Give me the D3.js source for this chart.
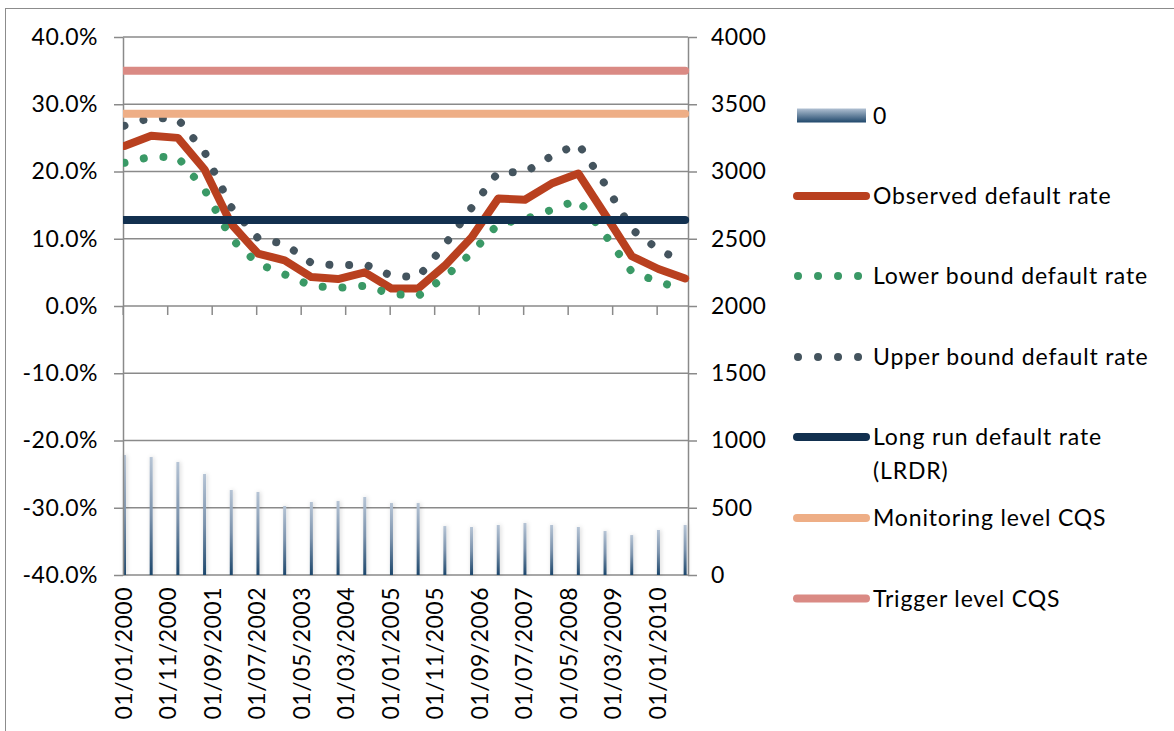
<!DOCTYPE html>
<html><head><meta charset="utf-8">
<script src="https://cdn.jsdelivr.net/npm/d3@7"></script>
<style>
body{margin:0;background:#fff}
svg{display:block}
text{font-family:Lato,"Liberation Sans",sans-serif;fill:#000;letter-spacing:0.5px}
text.leg{letter-spacing:0.85px}
</style>
</head><body><svg id="chart" width="1174" height="731"></svg>
<script>
// ---- data ----
const periods = ["01/01/2000","01/07/2000","01/01/2001","01/07/2001","01/01/2002","01/07/2002","01/01/2003","01/07/2003","01/01/2004","01/07/2004","01/01/2005","01/07/2005","01/01/2006","01/07/2006","01/01/2007","01/07/2007","01/01/2008","01/07/2008","01/01/2009","01/07/2009","01/01/2010","01/07/2010"];
const counts = [892, 877, 840, 751, 632, 617, 513, 543, 550, 580, 535, 535, 364, 357, 372, 387, 372, 357, 327, 297, 335, 372];
const observed = [23.8, 25.3, 25.0, 20.3, 12.2, 7.8, 6.8, 4.3, 4.0, 5.0, 2.6, 2.6, 6.0, 10.2, 16.0, 15.8, 18.2, 19.7, 13.6, 7.4, 5.5, 4.1];
const lower = [21.3, 22.2, 22.1, 17.3, 10.0, 6.3, 4.7, 3.0, 2.7, 3.0, 1.8, 1.5, 4.3, 7.9, 12.2, 12.9, 14.3, 15.8, 10.6, 5.1, 3.6, 2.4];
const upper = [26.8, 28.0, 27.8, 22.9, 14.7, 10.1, 9.2, 6.4, 6.0, 6.2, 4.5, 4.3, 9.1, 14.6, 19.9, 19.9, 22.3, 24.1, 18.1, 11.4, 8.4, 6.4];
const lrdr = 12.8, monitoring = 28.6, trigger = 35.0;
const xTickLabels = ["01/01/2000","01/11/2000","01/09/2001","01/07/2002","01/05/2003","01/03/2004","01/01/2005","01/11/2005","01/09/2006","01/07/2007","01/05/2008","01/03/2009","01/01/2010"];
const leftTicks = [-40,-30,-20,-10,0,10,20,30,40];
const rightTicks = [0,500,1000,1500,2000,2500,3000,3500,4000];
const legendLabels = ["0","Observed default rate","Lower bound default rate","Upper bound default rate",["Long run default rate","(LRDR)"],"Monitoring level CQS","Trigger level CQS"];

// ---- helpers ----
const monthIndex = s => { const p = s.split("/"); return (+p[2]-2000)*12 + (+p[1]-1); };
const colors = {obs:"#b9401f", low:"#3a9966", up:"#44545e", lrdr:"#12304f", mon:"#eeae86", trig:"#da8a84", grid:"#8a8a8a"};
const FS = 23;

const svg = d3.select("#chart");
const L = 123, R = 688, T = 37, B = 575;
const x = d3.scaleLinear().domain([0,127]).range([122.7,687.8]);
const yL = d3.scaleLinear().domain([-40,40]).range([B,T]);
const yR = d3.scaleLinear().domain([0,4000]).range([B,T]);
const xm = d => x(monthIndex(d) + 0.4);

// outer border
svg.append("rect").attr("x",5.5).attr("y",8.5).attr("width",1200).attr("height",800)
  .attr("fill","none").attr("stroke","#8c8c8c").attr("stroke-width",1);

const defs = svg.append("defs");
const g1 = defs.append("linearGradient").attr("id","barGrad").attr("x1",0).attr("y1",0).attr("x2",0).attr("y2",1);
g1.append("stop").attr("offset","0%").attr("stop-color","#b6c4d5");
g1.append("stop").attr("offset","50%").attr("stop-color","#7b92ac");
g1.append("stop").attr("offset","100%").attr("stop-color","#1c466b");
const f = defs.append("filter").attr("id","shadow").attr("x","-300%").attr("y","-10%").attr("width","700%").attr("height","120%");
f.append("feDropShadow").attr("dx",1).attr("dy",0).attr("stdDeviation",2.2).attr("flood-color","#000").attr("flood-opacity",0.18);
defs.append("clipPath").attr("id","plotClip").append("rect").attr("x",L).attr("y",0).attr("width",R-L+4).attr("height",731);

// gridlines
svg.append("g").selectAll("line").data(leftTicks).join("line")
  .attr("x1",L).attr("x2",R).attr("y1",d=>yL(d)).attr("y2",d=>yL(d))
  .attr("stroke",colors.grid).attr("stroke-width",1.3);

// bars (secondary axis)
svg.append("g").selectAll("rect").data(counts).join("rect")
  .attr("x",(d,i)=>xm(periods[i])-1.5).attr("width",3)
  .attr("y",d=>yR(d)).attr("height",d=>yR(0)-yR(d))
  .attr("fill","url(#barGrad)").attr("filter","url(#shadow)");

// axes
const axL = svg.append("g").attr("transform",`translate(${L},0)`)
  .call(d3.axisLeft(yL).tickValues(leftTicks).tickFormat(d=>d.toFixed(1)+"%").tickSize(9).tickSizeOuter(0).tickPadding(16));
const axR = svg.append("g").attr("transform",`translate(${R},0)`)
  .call(d3.axisRight(yR).tickValues(rightTicks).tickFormat(d=>d).tickSize(9).tickSizeOuter(0).tickPadding(14));
const axX = svg.append("g").attr("transform",`translate(0,${yL(0)})`)
  .call(d3.axisBottom(x).tickValues(xTickLabels.map(monthIndex)).tickFormat("").tickSize(9).tickSizeOuter(0));
[axL,axR,axX].forEach(a=>{
  a.selectAll("path.domain").attr("stroke",colors.grid).attr("stroke-width",1.5);
  a.selectAll(".tick line").attr("stroke",colors.grid).attr("stroke-width",1.5);
  a.selectAll("text").attr("font-size",FS).attr("font-family","Lato").attr("fill","#000");
});
axX.select("path.domain").remove();

// x labels (rotated, at bottom)
svg.append("g").selectAll("text").data(xTickLabels).join("text")
  .attr("transform",d=>`translate(${x(monthIndex(d))+1},587) rotate(-90)`)
  .attr("text-anchor","end").attr("dy","0.35em").attr("font-size",FS).text(d=>d);

// lines
const plot = svg.append("g").attr("clip-path","url(#plotClip)");
const line = d3.line().x((d,i)=>xm(periods[i])).y(d=>yL(d));
plot.append("path").datum(observed).attr("d",line).attr("fill","none")
  .attr("stroke",colors.obs).attr("stroke-width",8).attr("stroke-linejoin","round").attr("stroke-linecap","round");
plot.append("path").datum(lower).attr("d",line).attr("fill","none")
  .attr("stroke",colors.low).attr("stroke-width",8).attr("stroke-linecap","round").attr("stroke-dasharray","0.01 19.8");
plot.append("path").datum(upper).attr("d",line).attr("fill","none")
  .attr("stroke",colors.up).attr("stroke-width",8).attr("stroke-linecap","round").attr("stroke-dasharray","0.01 19.8");
const hline = (v,c) => plot.append("line")
  .attr("x1",xm(periods[0])).attr("x2",xm(periods[periods.length-1]))
  .attr("y1",yL(v)).attr("y2",yL(v)).attr("stroke",c).attr("stroke-width",8).attr("stroke-linecap","round");
hline(lrdr,colors.lrdr); hline(monitoring,colors.mon); hline(trigger,colors.trig);

// legend
const lg = svg.append("g");
const ly = [115.5,196,276,357,437,518,598.5];
const lx1 = 797, lx2 = 866, tx = 873;
const g2 = defs.append("linearGradient").attr("id","legGrad").attr("x1",0).attr("y1",0).attr("x2",0).attr("y2",1);
g2.append("stop").attr("offset","0%").attr("stop-color","#b0c0d2");
g2.append("stop").attr("offset","100%").attr("stop-color","#1f476b");
lg.append("rect").attr("x",lx1).attr("y",ly[0]-7).attr("width",lx2-lx1).attr("height",14).attr("fill","url(#legGrad)");
const legLine = (i,c,dash) => lg.append("line").attr("x1",dash?798:797).attr("x2",dash?859:866)
  .attr("y1",ly[i]).attr("y2",ly[i]).attr("stroke",c).attr("stroke-width",8).attr("stroke-linecap","round")
  .attr("stroke-dasharray",dash?"0.01 20":null);
legLine(1,colors.obs,false); legLine(2,colors.low,true); legLine(3,colors.up,true);
legLine(4,colors.lrdr,false); legLine(5,colors.mon,false); legLine(6,colors.trig,false);
legendLabels.forEach((t,i)=>{
  const te = lg.append("text").attr("class","leg").attr("x",tx).attr("y",ly[i]).attr("dy","0.35em").attr("font-size",FS);
  if (Array.isArray(t)) {
    t.forEach((s,j)=> te.append("tspan").attr("x",tx).attr("dy", j===0?"0.35em":"34px").text(s));
  } else te.text(t);
});
</script>
</body></html>
